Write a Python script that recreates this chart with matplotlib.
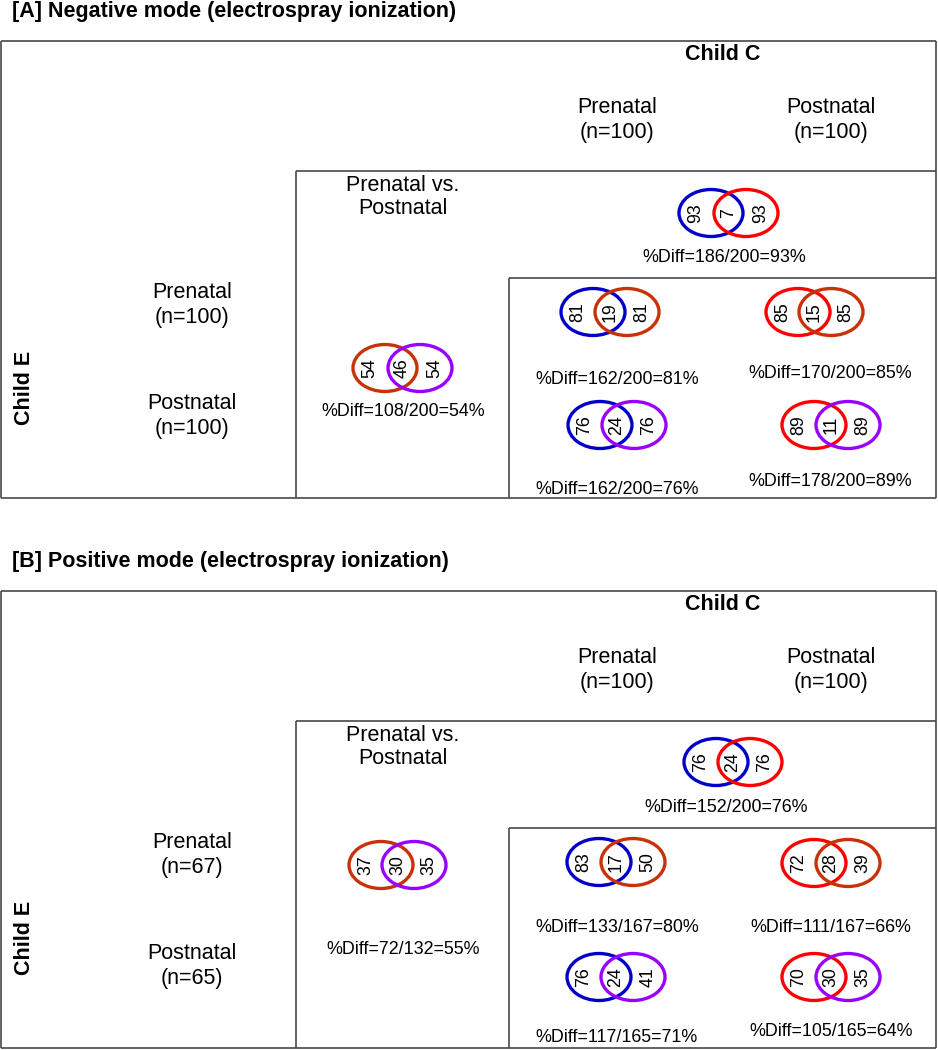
import matplotlib
matplotlib.use("Agg")
import matplotlib.pyplot as plt
from matplotlib.patches import Ellipse

plt.rcParams['font.family'] = ['Liberation Sans', 'DejaVu Sans']

# ---- data ----
titles = ["[A] Negative mode (electrospray ionization)",
          "[B] Positive mode (electrospray ionization)"]
# order of venns: C pre vs C post, E pre vs E post, C pre vs E pre,
#                 C post vs E pre, C pre vs E post, C post vs E post
neg_left = [93, 54, 81, 85, 76, 89]
neg_mid = [7, 46, 19, 15, 24, 11]
neg_right = [93, 54, 81, 85, 76, 89]
neg_num = [186, 108, 162, 170, 162, 178]
neg_den = [200, 200, 200, 200, 200, 200]
neg_pct = [93, 54, 81, 85, 76, 89]

pos_left = [76, 37, 83, 72, 76, 70]
pos_mid = [24, 30, 17, 28, 24, 30]
pos_right = [76, 35, 50, 39, 41, 35]
pos_num = [152, 72, 133, 111, 117, 105]
pos_den = [200, 132, 167, 167, 165, 165]
pos_pct = [76, 55, 80, 66, 71, 64]

childC_n = [[100, 100], [100, 100]]
childE_n = [[100, 100], [67, 65]]

# ---- styles / layout (pixels, y down) ----
BLUE, RED, BROWN, PURPLE = '#0000c8', '#ff0000', '#c83208', '#9a00ff'
venn_colors = [(BLUE, RED), (BROWN, PURPLE), (BLUE, BROWN),
               (RED, BROWN), (BLUE, PURPLE), (RED, PURPLE)]
# (x left circle, x right circle, y circles, x text, y text) per venn, per panel
layout = [
    [(711, 746, 213, 724, 257), (385, 420, 368, 403, 412),
     (593, 627, 312, 617, 379), (798, 831, 312, 830, 373),
     (600, 634, 425, 617, 489), (814, 848, 425, 830, 482)],
    [(716, 750, 762, 726, 807), (381, 414, 865, 403, 950),
     (599, 633, 862, 617, 928), (814, 848, 863, 831, 928),
     (599, 633, 977, 617, 1038), (814, 848, 977, 831, 1032)],
]
offsets = [0, 550]
LINE = '#484848'

fig = plt.figure(figsize=(9.38, 10.5), dpi=100)
ax = fig.add_axes([0, 0, 1, 1])
ax.set_xlim(0, 938)
ax.set_ylim(1050, 0)
ax.axis('off')

def hline(x0, x1, y):
    ax.plot([x0, x1], [y, y], color=LINE, lw=1.2, solid_capstyle='butt')

def vline(x, y0, y1):
    ax.plot([x, x], [y0, y1], color=LINE, lw=1.2, solid_capstyle='butt')

panels = [(neg_left, neg_mid, neg_right, neg_num, neg_den, neg_pct),
          (pos_left, pos_mid, pos_right, pos_num, pos_den, pos_pct)]

for p in range(2):
    o = offsets[p]
    ax.text(12, 12 + o, titles[p], fontsize=15.5, fontweight='bold',
            ha='left', va='center')
    # table frame
    top, bot = 41 + o, 498 + o
    hline(1, 936, top)
    hline(1, 936, bot)
    vline(1, top, bot)
    vline(936, top, bot)
    hline(296, 936, 171 + o)
    vline(296, 171 + o, bot)
    hline(509, 936, 278 + o)
    vline(509, 278 + o, bot)

    ax.text(723, 55 + o, "Child C", fontsize=15.5, fontweight='bold',
            ha='center', va='center')
    ax.text(25, 388 + o, "Child E", fontsize=15.5, fontweight='bold',
            ha='center', va='center', rotation=90)
    for k, xc in enumerate([617, 831]):
        lab = ["Prenatal", "Postnatal"][k]
        ax.text(xc, 120 + o, f"{lab}\n(n={childC_n[p][k]})", fontsize=15.5,
                ha='center', va='center', linespacing=1.2)
    for k, yc in enumerate([305, 416]):
        lab = ["Prenatal", "Postnatal"][k]
        ax.text(192, yc + o, f"{lab}\n(n={childE_n[p][k]})", fontsize=15.5,
                ha='center', va='center', linespacing=1.2)
    ax.text(403, 197 + o, "Prenatal vs.\nPostnatal", fontsize=15.5,
            ha='center', va='center', linespacing=1.15)

    left, mid, right, num, den, pct = panels[p]
    for i in range(6):
        xl, xr, yv, xt, yt = layout[p][i]
        cl, cr = venn_colors[i]
        ax.add_patch(Ellipse((xl, yv), 64, 47, fill=False, ec=cl, lw=2.4))
        ax.add_patch(Ellipse((xr, yv), 64, 47, fill=False, ec=cr, lw=2.4))
        for xx, v in [(xl - 15, left[i]), ((xl + xr) / 2, mid[i]),
                      (xr + 15, right[i])]:
            ax.text(xx, yv, str(v), fontsize=12.8, rotation=90,
                    ha='center', va='center')
        ax.text(xt, yt, f"%Diff={num[i]}/{den[i]}={pct[i]}%", fontsize=12.9,
                ha='center', va='center')

fig.savefig("out.png", dpi=100)
